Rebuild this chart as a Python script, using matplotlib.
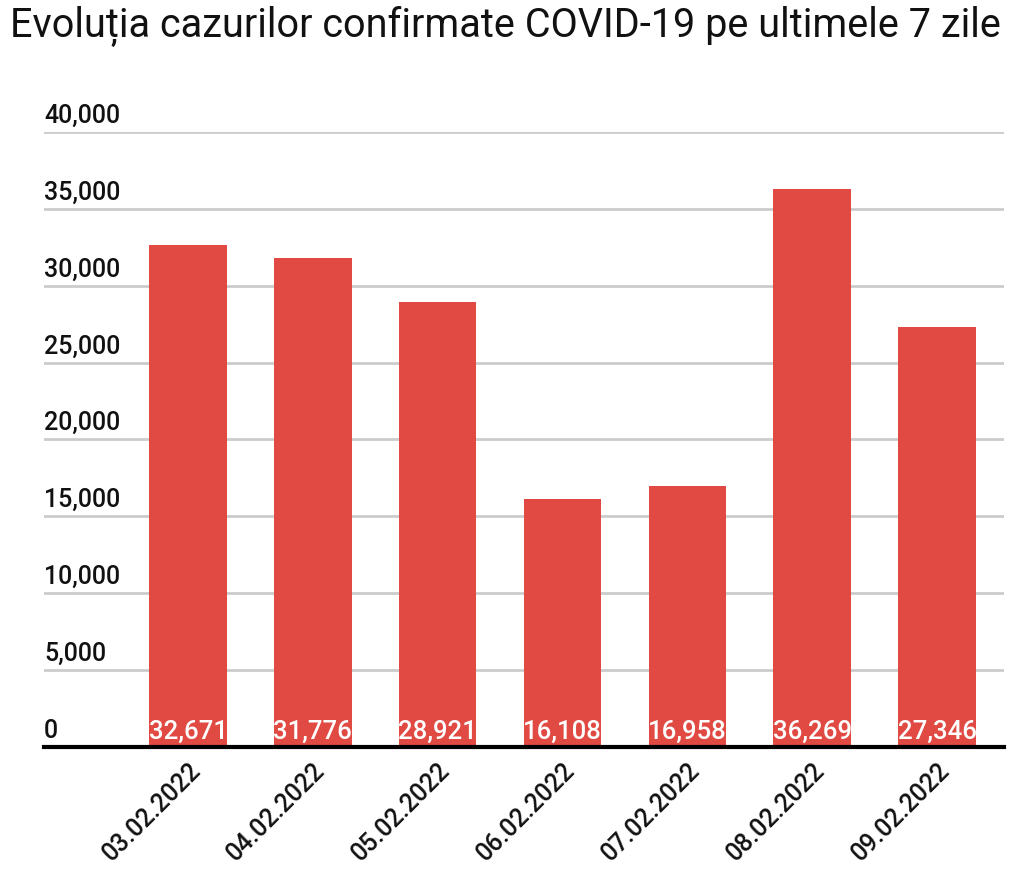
import matplotlib.pyplot as plt
import matplotlib.transforms as mtransforms

# Data
dates = ['03.02.2022', '04.02.2022', '05.02.2022', '06.02.2022',
         '07.02.2022', '08.02.2022', '09.02.2022']
cases = [32671, 31776, 28921, 16108, 16958, 36269, 27346]
y_ticks = [0, 5000, 10000, 15000, 20000, 25000, 30000, 35000, 40000]

plt.rcParams['font.family'] = ['Roboto', 'DejaVu Sans']

fig = plt.figure(figsize=(10.24, 8.84), dpi=100)
ax = fig.add_axes([0.043, 0.155, 0.9375, 0.6957])

x = range(len(dates))
ax.bar(x, cases, width=0.62, color='#E04A42', zorder=2)

# Value labels at the bottom of each bar
for i, v in zip(x, cases):
    ax.annotate(f'{v:,}', (i, 0), xytext=(0, 2), textcoords='offset points',
                ha='center', va='bottom', color='white', fontsize=18.5,
                fontweight='medium', zorder=3)

ax.set_xlim(-1.154, 6.537)
ax.set_ylim(0, 40000)

# Gridlines and y labels sitting above them
ax.set_yticks(y_ticks)
ax.set_yticklabels([])
ax.tick_params(axis='y', length=0)
ax.grid(True, axis='y', color='#cccccc', linewidth=2, zorder=0)
trans = mtransforms.blended_transform_factory(ax.transAxes, ax.transData)
for t in y_ticks:
    ax.annotate(f'{t:,}', (0, t), xycoords=trans, xytext=(0, 3),
                textcoords='offset points', ha='left', va='bottom',
                fontsize=18, fontweight='medium', color='#111111',
                annotation_clip=False)

ax.set_xticks(list(x))
ax.set_xticklabels(dates, rotation=45, ha='right', rotation_mode='anchor',
                   fontsize=18, fontweight='medium', color='#111111')
ax.tick_params(axis='x', length=0, pad=8)

for side in ['top', 'right', 'left']:
    ax.spines[side].set_visible(False)
ax.spines['bottom'].set_linewidth(3)
ax.spines['bottom'].set_zorder(4)

fig.text(0.0098, 0.97, 'Evoluția cazurilor confirmate COVID-19 pe ultimele 7 zile',
         ha='left', va='center', fontsize=28.5, color='#111111')

fig.savefig('out.png', dpi=100)
